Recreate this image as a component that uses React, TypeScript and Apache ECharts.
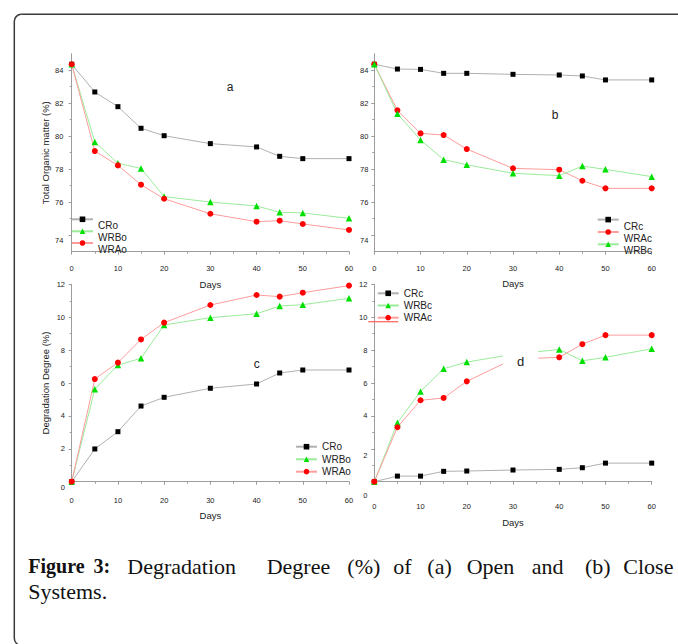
import React, { useEffect, useRef } from 'react';
import * as echarts from 'echarts';

// ---------------- data ----------------
const days = [0, 5, 10, 15, 20, 30, 40, 45, 50, 60];

// (a) Total organic matter (%) - open system
const tomCRo = [84.36, 82.68, 81.79, 80.48, 80.03, 79.55, 79.35, 78.78, 78.64, 78.64];
const tomWRBo = [84.36, 79.65, 78.36, 78.05, 76.34, 76.01, 75.77, 75.39, 75.35, 75.02];
const tomWRAo = [84.36, 79.1, 78.23, 77.06, 76.21, 75.3, 74.82, 74.88, 74.68, 74.32];
// (b) Total organic matter (%) - closed system
const tomCRc = [84.36, 84.07, 84.05, 83.81, 83.81, 83.75, 83.71, 83.65, 83.41, 83.41];
const tomWRAc = [84.36, 81.57, 80.17, 80.07, 79.22, 78.05, 77.97, 77.3, 76.84, 76.84];
const tomWRBc = [84.36, 81.36, 79.77, 78.58, 78.27, 77.75, 77.61, 78.19, 77.99, 77.55];
// (c) Degradation degree (%) - open system
const ddCRo = [0, 1.99, 3.04, 4.6, 5.13, 5.68, 5.94, 6.61, 6.79, 6.79];
const ddWRBo = [0, 5.62, 7.09, 7.5, 9.53, 9.97, 10.21, 10.68, 10.76, 11.15];
const ddWRAo = [0, 6.24, 7.24, 8.65, 9.67, 10.74, 11.35, 11.25, 11.49, 11.92];
// (d) Degradation degree (%) - closed system
const ddCRc = [0, 0.34, 0.34, 0.63, 0.65, 0.71, 0.75, 0.85, 1.13, 1.13];
const ddWRBc = [0, 3.58, 5.49, 6.87, 7.27, 7.75, 8.04, 7.35, 7.56, 8.08];
const ddWRAc = [0, 3.31, 4.95, 5.09, 6.1, 7.45, 7.56, 8.36, 8.91, 8.91];

const tomTicks = [74, 76, 78, 80, 82, 84];
const degTicks = [0, 2, 4, 6, 8, 10, 12];
const dayTicks = [0, 10, 20, 30, 40, 50, 60];

const legendA = ['CRo', 'WRBo', 'WRAo'];
const legendB = ['CRc', 'WRAc', 'WRBc'];
const legendC = ['CRo', 'WRBo', 'WRAo'];
const legendD = ['CRc', 'WRBc', 'WRAc'];

const panelLetters = ['a', 'b', 'c', 'd'];
const tomTitle = 'Total Organic matter (%)';
const degTitle = 'Degradation Degree (%)';
const xTitle = 'Days';

const captionLine1 = ['Figure', '3:', 'Degradation', 'Degree', '(%)', 'of', '(a)', 'Open', 'and', '(b)', 'Close'];
const captionLine2 = ['Systems.'];

// ---------------- styles / layout ----------------
const FONT = "'Liberation Sans', Arial, sans-serif";
const SERIF = "'Liberation Serif', 'Times New Roman', serif";
const AXIS_COLOR = '#9c9c9c';
const TEXT_COLOR = '#222222';

const kinds: Record<string, any> = {
  CR: { symbol: 'rect', size: 5, item: '#000000', line: '#b0b0b0' },
  WRB: { symbol: 'triangle', size: 6.5, item: '#00e000', line: '#9aec9a' },
  WRA: { symbol: 'circle', size: 6, item: '#ff0000', line: '#ff9c9c' },
};

const caption1X = [28.3, 93.5, 127.3, 266.7, 347.3, 393.3, 427.3, 466.7, 531.7, 585, 623.3];

function lineSeries(name: string, values: number[], idx: number, kind: string) {
  const s = kinds[kind];
  return {
    type: 'line',
    name,
    xAxisIndex: idx,
    yAxisIndex: idx,
    data: days.map((d, i) => [d, values[i]]),
    symbol: s.symbol,
    symbolSize: s.size,
    showSymbol: true,
    itemStyle: { color: s.item, borderWidth: 0 },
    lineStyle: { color: s.line, width: 1 },
    emphasis: { disabled: true },
    z: 3,
  };
}

const labelBase = { fontSize: 7.5, color: TEXT_COLOR, fontFamily: FONT };

function xAxis(gridIndex: number, margin: number, nameGap: number) {
  return {
    type: 'value',
    gridIndex,
    min: 0,
    max: 60,
    interval: 10,
    name: xTitle,
    nameLocation: 'middle',
    nameGap,
    nameTextStyle: { fontSize: 9.5, color: TEXT_COLOR, fontFamily: FONT },
    axisLine: { show: true, onZero: false, lineStyle: { color: AXIS_COLOR, width: 1 } },
    axisTick: { show: true, length: 3, lineStyle: { color: AXIS_COLOR } },
    minorTick: { show: true, splitNumber: 2, length: 2, lineStyle: { color: AXIS_COLOR } },
    axisLabel: { ...labelBase, margin, customValues: dayTicks },
    splitLine: { show: false },
  };
}

// shifts: list of [tick value, extra top padding] for labels drawn lower than their tick
function yAxis(
  gridIndex: number,
  min: number,
  max: number,
  ticks: number[],
  margin: number,
  name: string,
  shifts: number[][]
) {
  const rich: Record<string, any> = {};
  shifts.forEach((s, i) => {
    rich['lo' + i] = { ...labelBase, padding: [s[1], 0, 0, 0] };
  });
  return {
    type: 'value',
    gridIndex,
    min,
    max,
    minInterval: 2,
    maxInterval: 2,
    name,
    nameLocation: 'middle',
    nameRotate: 90,
    nameGap: 21.5,
    nameTextStyle: { fontSize: 9.5, color: TEXT_COLOR, fontFamily: FONT },
    axisLine: { show: true, onZero: false, lineStyle: { color: AXIS_COLOR, width: 1 } },
    axisTick: { show: true, length: 3, customValues: ticks, lineStyle: { color: AXIS_COLOR } },
    minorTick: { show: true, splitNumber: 2, length: 2, lineStyle: { color: AXIS_COLOR } },
    axisLabel: {
      ...labelBase,
      margin,
      customValues: ticks,
      showMinLabel: true,
      showMaxLabel: true,
      formatter: (v: number) => {
        const k = shifts.findIndex((s) => s[0] === v);
        return k >= 0 ? `{lo${k}|${v}}` : String(v);
      },
      rich,
    },
    splitLine: { show: false },
  };
}

const legendText = { fontSize: 10, color: TEXT_COLOR, fontFamily: FONT };

// one legend component per entry so that each can be placed where the reference puts it
function legendItem(name: string, left: number, iconY: number, shifted: boolean) {
  return {
    orient: 'vertical',
    left,
    top: shifted ? iconY - 2.5 : iconY - 5,
    padding: 0,
    data: [name],
    itemWidth: 21,
    itemHeight: 7,
    selectedMode: false,
    formatter: shifted ? '{low|{name}}' : '{name}',
    textStyle: {
      ...legendText,
      rich: { low: { ...legendText, padding: [13, 0, 0, 0] } },
    },
  };
}

export default function App() {
  const ref = useRef<HTMLDivElement>(null);

  useEffect(() => {
    if (!ref.current) return;
    const chart = echarts.init(ref.current, undefined, { renderer: 'svg' });

    const grids = [
      { left: 71.7, top: 53.7, width: 277.3, height: 198 },
      { left: 374.3, top: 53.7, width: 277.4, height: 198 },
      { left: 71.7, top: 284.3, width: 277.3, height: 197.4 },
      { left: 374.3, top: 284.3, width: 277.4, height: 197.4 },
    ].map((g) => ({ ...g, containLabel: false, outerBoundsMode: 'none' }));

    const letterPos = [
      [230, 86.7, 12],
      [555, 115, 12],
      [256.7, 364, 12],
      [520.5, 361.3, 13],
    ];

    const legendLayout: [string[], number, number[], boolean][] = [
      [legendA, 71, [219, 231, 242.7], true],
      [legendB, 596.7, [219.3, 231.7, 244], true],
      [legendC, 295, [446.7, 459.3, 471.7], false],
      [legendD, 376.7, [293.3, 305.5, 317.7], false],
    ];
    const legends: any[] = [];
    legendLayout.forEach(([names, left, ys, shifted]) => {
      names.forEach((n, i) => legends.push(legendItem(n, left, ys[i], shifted)));
    });

    const graphic: any[] = [
      {
        type: 'rect',
        silent: true,
        z: 0,
        shape: { x: 14.3, y: 14.3, width: 700, height: 631, r: 7 },
        style: { fill: 'none', stroke: '#3a3a3a', lineWidth: 1.5 },
      },
      ...panelLetters.map((t, i) => ({
        type: 'text',
        z: 100,
        x: letterPos[i][0],
        y: letterPos[i][1],
        style: {
          text: t,
          fontSize: letterPos[i][2],
          fontFamily: FONT,
          fill: TEXT_COLOR,
          align: 'center',
          verticalAlign: 'middle',
          ...(t === 'd' ? { backgroundColor: '#ffffff', padding: [7, 14, 7, 14] } : {}),
        },
      })),
      {
        type: 'line',
        z: 100,
        shape: { x1: 368.3, y1: 321.7, x2: 398.3, y2: 321.7 },
        style: { stroke: '#ff6a6a', lineWidth: 1.3 },
      },
      ...captionLine1.map((w, i) => ({
        type: 'text',
        x: caption1X[i],
        y: 566,
        style: {
          text: w,
          fontSize: i < 2 ? 20 : 22,
          fontWeight: i < 2 ? 'bold' : 'normal',
          fontFamily: SERIF,
          fill: '#111111',
          align: 'left',
          verticalAlign: 'middle',
        },
      })),
      ...captionLine2.map((w) => ({
        type: 'text',
        x: 28.3,
        y: 591,
        style: {
          text: w,
          fontSize: 22,
          fontFamily: SERIF,
          fill: '#111111',
          align: 'left',
          verticalAlign: 'middle',
        },
      })),
    ];

    const option: any = {
      animation: false,
      backgroundColor: '#ffffff',
      grid: grids,
      xAxis: [xAxis(0, 12.5, 27.3), xAxis(1, 12.5, 26.6), xAxis(2, 14.5, 28.3), xAxis(3, 21, 35.6)],
      yAxis: [
        yAxis(0, 73, 85, tomTicks, 8.4, tomTitle, [[74, 11]]),
        yAxis(1, 73, 85, tomTicks, 6, '', [[74, 11]]),
        yAxis(2, 0, 12, degTicks, 6.7, degTitle, [[0, 12.6]]),
        yAxis(3, 0, 12, degTicks, 7, '', [[0, 28], [2, 13.8]]),
      ],
      legend: legends,
      series: [
        lineSeries('CRo', tomCRo, 0, 'CR'),
        lineSeries('WRBo', tomWRBo, 0, 'WRB'),
        lineSeries('WRAo', tomWRAo, 0, 'WRA'),
        lineSeries('CRc', tomCRc, 1, 'CR'),
        lineSeries('WRAc', tomWRAc, 1, 'WRA'),
        lineSeries('WRBc', tomWRBc, 1, 'WRB'),
        lineSeries('CRo', ddCRo, 2, 'CR'),
        lineSeries('WRBo', ddWRBo, 2, 'WRB'),
        lineSeries('WRAo', ddWRAo, 2, 'WRA'),
        lineSeries('CRc', ddCRc, 3, 'CR'),
        lineSeries('WRBc', ddWRBc, 3, 'WRB'),
        lineSeries('WRAc', ddWRAc, 3, 'WRA'),
      ],
      graphic,
    };

    chart.setOption(option);
    return () => chart.dispose();
  }, []);

  return (
    <div
      ref={ref}
      style={{ position: 'absolute', left: 0, top: 0, width: 678, height: 644, background: '#fff' }}
    />
  );
}
